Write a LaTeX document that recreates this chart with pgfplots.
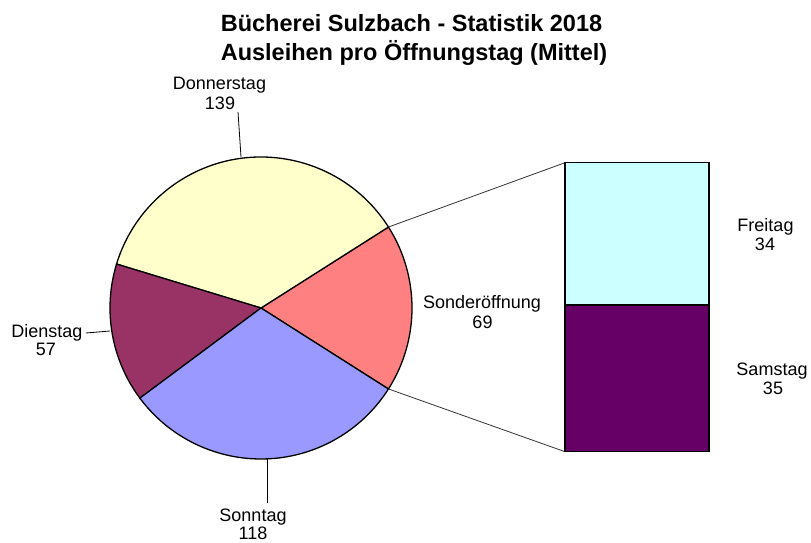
\documentclass[border=0pt]{standalone}
\usepackage{pgfplots}
\pgfplotsset{compat=1.18}
\usepackage{pgfplotstable}
\usepackage{fontspec}
\setmainfont{Liberation Sans}
\definecolor{cSo}{HTML}{FF8080}
\definecolor{cDo}{HTML}{FFFFCC}
\definecolor{cDi}{HTML}{993366}
\definecolor{cSt}{HTML}{9999FF}
\definecolor{cFr}{HTML}{CCFFFF}
\definecolor{cSa}{HTML}{660066}
% pie values (Sonderoeffnung, Donnerstag, Dienstag, Sonntag)
\pgfplotstableread{
idx value
0 69
1 139
2 57
3 118
}\piedata
\pgfplotstablegetelem{0}{value}\of\piedata \edef\vSo{\pgfplotsretval}
\pgfplotstablegetelem{1}{value}\of\piedata \edef\vDo{\pgfplotsretval}
\pgfplotstablegetelem{2}{value}\of\piedata \edef\vDi{\pgfplotsretval}
\pgfplotstablegetelem{3}{value}\of\piedata \edef\vSt{\pgfplotsretval}
\pgfmathsetmacro\tot{\vSo+\vDo+\vDi+\vSt}
\pgfmathsetmacro\aA{-180*(\vSo/\tot)}
\pgfmathsetmacro\aB{\aA+360*(\vSo/\tot)}
\pgfmathsetmacro\aC{\aB+360*(\vDo/\tot)}
\pgfmathsetmacro\aD{\aC+360*(\vDi/\tot)}
\pgfmathsetmacro\aE{\aD+360*(\vSt/\tot)}
\newcommand\lab{\fontsize{18}{19.5}\selectfont}
\newcommand\ttl{\fontsize{23.5}{29}\selectfont\bfseries}
\begin{document}
\begin{tikzpicture}
\useasboundingbox (0,0) rectangle (811pt,542pt);
\begin{axis}[at={(0,0)}, anchor=south west, width=811pt, height=542pt, scale only axis,
  xmin=0, xmax=811, ymin=0, ymax=542, hide axis, clip=false]
  \def\cx{261}\def\cy{234}\def\r{151pt}
  \filldraw[fill=cSo, draw=black, line width=1.3pt] (axis cs:\cx,\cy) -- ++(\aA:\r) arc[start angle=\aA, end angle=\aB, radius=\r] -- cycle;
  \filldraw[fill=cDo, draw=black, line width=1.3pt] (axis cs:\cx,\cy) -- ++(\aB:\r) arc[start angle=\aB, end angle=\aC, radius=\r] -- cycle;
  \filldraw[fill=cDi, draw=black, line width=1.3pt] (axis cs:\cx,\cy) -- ++(\aC:\r) arc[start angle=\aC, end angle=\aD, radius=\r] -- cycle;
  \filldraw[fill=cSt, draw=black, line width=1.3pt] (axis cs:\cx,\cy) -- ++(\aD:\r) arc[start angle=\aD, end angle=\aE, radius=\r] -- cycle;
  % connectors
  \draw[black!80, line width=0.8pt] (axis cs:\cx,\cy) ++(\aB:\r) -- (axis cs:565,379.3);
  \draw[black!80, line width=0.8pt] (axis cs:\cx,\cy) ++(\aA:\r) -- (axis cs:565,90.3);
  % leader lines
  \draw[black, line width=0.8pt] (axis cs:238,430) -- (axis cs:241,385);
  \draw[black, line width=0.8pt] (axis cs:86,209) -- (axis cs:110,211);
  \draw[black, line width=0.8pt] (axis cs:267,84) -- (axis cs:267,39);
  % title
  \node[anchor=base, font=\ttl] at (axis cs:411.5,510) {Bücherei Sulzbach - Statistik 2018};
  \node[anchor=base, font=\ttl] at (axis cs:414,481) {Ausleihen pro Öffnungstag (Mittel)};
  % labels
  \node[anchor=base, font=\lab] at (axis cs:219.5,452) {Donnerstag};
  \node[anchor=base, font=\lab] at (axis cs:220,432) {139};
  \node[anchor=base, font=\lab] at (axis cs:47,205) {Dienstag};
  \node[anchor=base, font=\lab] at (axis cs:46,187) {57};
  \node[anchor=base, font=\lab] at (axis cs:253,20.5) {Sonntag};
  \node[anchor=base, font=\lab] at (axis cs:253,2.5) {118};
  \node[anchor=base, font=\lab] at (axis cs:482,234) {Sonderöffnung};
  \node[anchor=base, font=\lab] at (axis cs:482.5,214) {69};
  \node[anchor=base, font=\lab] at (axis cs:765.5,311) {Freitag};
  \node[anchor=base, font=\lab] at (axis cs:765,292) {34};
  \node[anchor=base, font=\lab] at (axis cs:772,167) {Samstag};
  \node[anchor=base, font=\lab] at (axis cs:773,148) {35};
\end{axis}
\begin{axis}[at={(565pt,90.3pt)}, anchor=south west, width=144pt, height=289pt, scale only axis,
  hide axis, clip=false, xmin=-0.5, xmax=0.5, ymin=0, ymax=69, ybar stacked, bar width=144pt]
  \addplot[fill=cSa, draw=black, line width=1.3pt] coordinates {(0,35)};
  \addplot[fill=cFr, draw=black, line width=1.3pt] coordinates {(0,34)};
\end{axis}
\end{tikzpicture}
\end{document}
